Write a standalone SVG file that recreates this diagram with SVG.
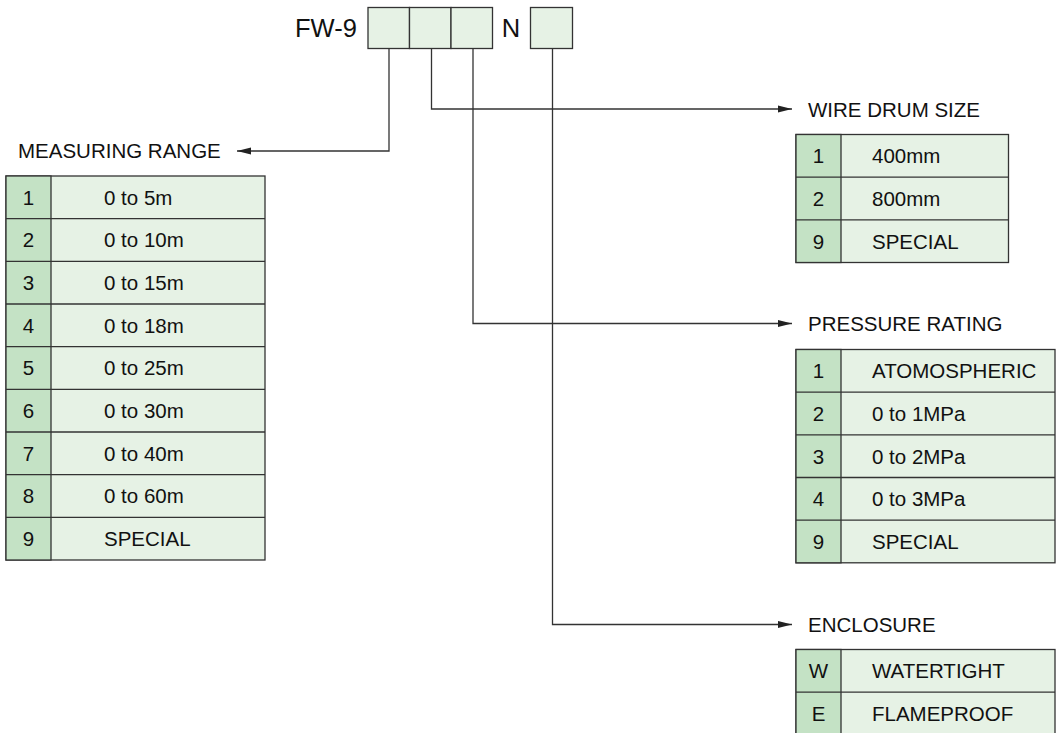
<svg xmlns="http://www.w3.org/2000/svg" width="1060" height="733" viewBox="0 0 1060 733">
  <style>
    .box { fill: #e6f2e5; stroke: #333; stroke-width: 1.3; }
    .key { fill: #c4e2c5; stroke: #333; stroke-width: 1.3; }
    .val { fill: #e6f2e5; stroke: #333; stroke-width: 1.3; }
    .t { font-family: "Liberation Sans", Arial, sans-serif; fill: #111; }
    .title { font-size: 20.5px; }
    .cell { font-size: 20.5px; }
    .keyt { font-size: 20.5px; text-anchor: middle; }
    .code { font-size: 25.5px; }
    .wire { fill: none; stroke: #333; stroke-width: 1.3; }
  </style>
  <defs>
    <marker id="arrow" markerUnits="userSpaceOnUse" markerWidth="14" markerHeight="8" refX="14" refY="4" orient="auto">
      <path d="M0,0.5 L14,4 L0,7.5 Z" fill="#222"/>
    </marker>
  </defs>

  <rect width="1060" height="733" fill="#fff"/>

  <!-- model code header -->
  <g id="code">
    <text class="t code" x="295" y="37">FW-9</text>
    <rect class="box" x="368" y="7.5" width="41.5" height="41"/>
    <rect class="box" x="409.5" y="7.5" width="41.5" height="41"/>
    <rect class="box" x="451" y="7.5" width="41.5" height="41"/>
    <text class="t code" x="511" y="37" text-anchor="middle">N</text>
    <rect class="box" x="530.5" y="7.5" width="42" height="41"/>
  </g>

  <!-- connectors -->
  <g id="connectors">
    <polyline class="wire" points="389,48.5 389,151 237,151" marker-end="url(#arrow)"/>
    <polyline class="wire" points="431.5,48.5 431.5,109 792,109" marker-end="url(#arrow)"/>
    <polyline class="wire" points="473,48.5 473,323.5 792,323.5" marker-end="url(#arrow)"/>
    <polyline class="wire" points="552.5,48.5 552.5,624.5 792,624.5" marker-end="url(#arrow)"/>
  </g>

  <!-- measuring range -->
  <g id="measuring-range">
    <text class="t title" x="18" y="158">MEASURING RANGE</text>
    <g transform="translate(6,176)">
      <rect class="val" x="0" y="0" width="259" height="384"/>
      <rect class="key" x="0" y="0" width="45" height="384"/>
      <g class="wire">
        <line x1="0" y1="42.7" x2="259" y2="42.7"/>
        <line x1="0" y1="85.3" x2="259" y2="85.3"/>
        <line x1="0" y1="128" x2="259" y2="128"/>
        <line x1="0" y1="170.7" x2="259" y2="170.7"/>
        <line x1="0" y1="213.3" x2="259" y2="213.3"/>
        <line x1="0" y1="256" x2="259" y2="256"/>
        <line x1="0" y1="298.7" x2="259" y2="298.7"/>
        <line x1="0" y1="341.3" x2="259" y2="341.3"/>
      </g>
      <g class="t keyt">
        <text x="22.5" y="28.7">1</text>
        <text x="22.5" y="71.4">2</text>
        <text x="22.5" y="114">3</text>
        <text x="22.5" y="156.7">4</text>
        <text x="22.5" y="199.4">5</text>
        <text x="22.5" y="242">6</text>
        <text x="22.5" y="284.7">7</text>
        <text x="22.5" y="327.4">8</text>
        <text x="22.5" y="370">9</text>
      </g>
      <g class="t cell">
        <text x="98" y="28.7">0 to 5m</text>
        <text x="98" y="71.4">0 to 10m</text>
        <text x="98" y="114">0 to 15m</text>
        <text x="98" y="156.7">0 to 18m</text>
        <text x="98" y="199.4">0 to 25m</text>
        <text x="98" y="242">0 to 30m</text>
        <text x="98" y="284.7">0 to 40m</text>
        <text x="98" y="327.4">0 to 60m</text>
        <text x="98" y="370">SPECIAL</text>
      </g>
    </g>
  </g>

  <!-- wire drum size -->
  <g id="wire-drum-size">
    <text class="t title" x="808" y="116.5">WIRE DRUM SIZE</text>
    <g transform="translate(796,134.5)">
      <rect class="val" x="0" y="0" width="212.5" height="128"/>
      <rect class="key" x="0" y="0" width="45" height="128"/>
      <g class="wire">
        <line x1="0" y1="42.7" x2="212.5" y2="42.7"/>
        <line x1="0" y1="85.3" x2="212.5" y2="85.3"/>
      </g>
      <g class="t keyt">
        <text x="22.5" y="28.7">1</text>
        <text x="22.5" y="71.4">2</text>
        <text x="22.5" y="114">9</text>
      </g>
      <g class="t cell">
        <text x="76" y="28.7">400mm</text>
        <text x="76" y="71.4">800mm</text>
        <text x="76" y="114">SPECIAL</text>
      </g>
    </g>
  </g>

  <!-- pressure rating -->
  <g id="pressure-rating">
    <text class="t title" x="808" y="330.5">PRESSURE RATING</text>
    <g transform="translate(796,349.5)">
      <rect class="val" x="0" y="0" width="259" height="213.3"/>
      <rect class="key" x="0" y="0" width="45" height="213.3"/>
      <g class="wire">
        <line x1="0" y1="42.7" x2="259" y2="42.7"/>
        <line x1="0" y1="85.3" x2="259" y2="85.3"/>
        <line x1="0" y1="128" x2="259" y2="128"/>
        <line x1="0" y1="170.7" x2="259" y2="170.7"/>
      </g>
      <g class="t keyt">
        <text x="22.5" y="28.7">1</text>
        <text x="22.5" y="71.4">2</text>
        <text x="22.5" y="114">3</text>
        <text x="22.5" y="156.7">4</text>
        <text x="22.5" y="199.4">9</text>
      </g>
      <g class="t cell">
        <text x="76" y="28.7">ATOMOSPHERIC</text>
        <text x="76" y="71.4">0 to 1MPa</text>
        <text x="76" y="114">0 to 2MPa</text>
        <text x="76" y="156.7">0 to 3MPa</text>
        <text x="76" y="199.4">SPECIAL</text>
      </g>
    </g>
  </g>

  <!-- enclosure -->
  <g id="enclosure">
    <text class="t title" x="808" y="632">ENCLOSURE</text>
    <g transform="translate(796,649.5)">
      <rect class="val" x="0" y="0" width="259" height="85.3"/>
      <rect class="key" x="0" y="0" width="45" height="85.3"/>
      <line class="wire" x1="0" y1="42.7" x2="259" y2="42.7"/>
      <g class="t keyt">
        <text x="22.5" y="28.7">W</text>
        <text x="22.5" y="71.4">E</text>
      </g>
      <g class="t cell">
        <text x="76" y="28.7">WATERTIGHT</text>
        <text x="76" y="71.4">FLAMEPROOF</text>
      </g>
    </g>
  </g>
</svg>
